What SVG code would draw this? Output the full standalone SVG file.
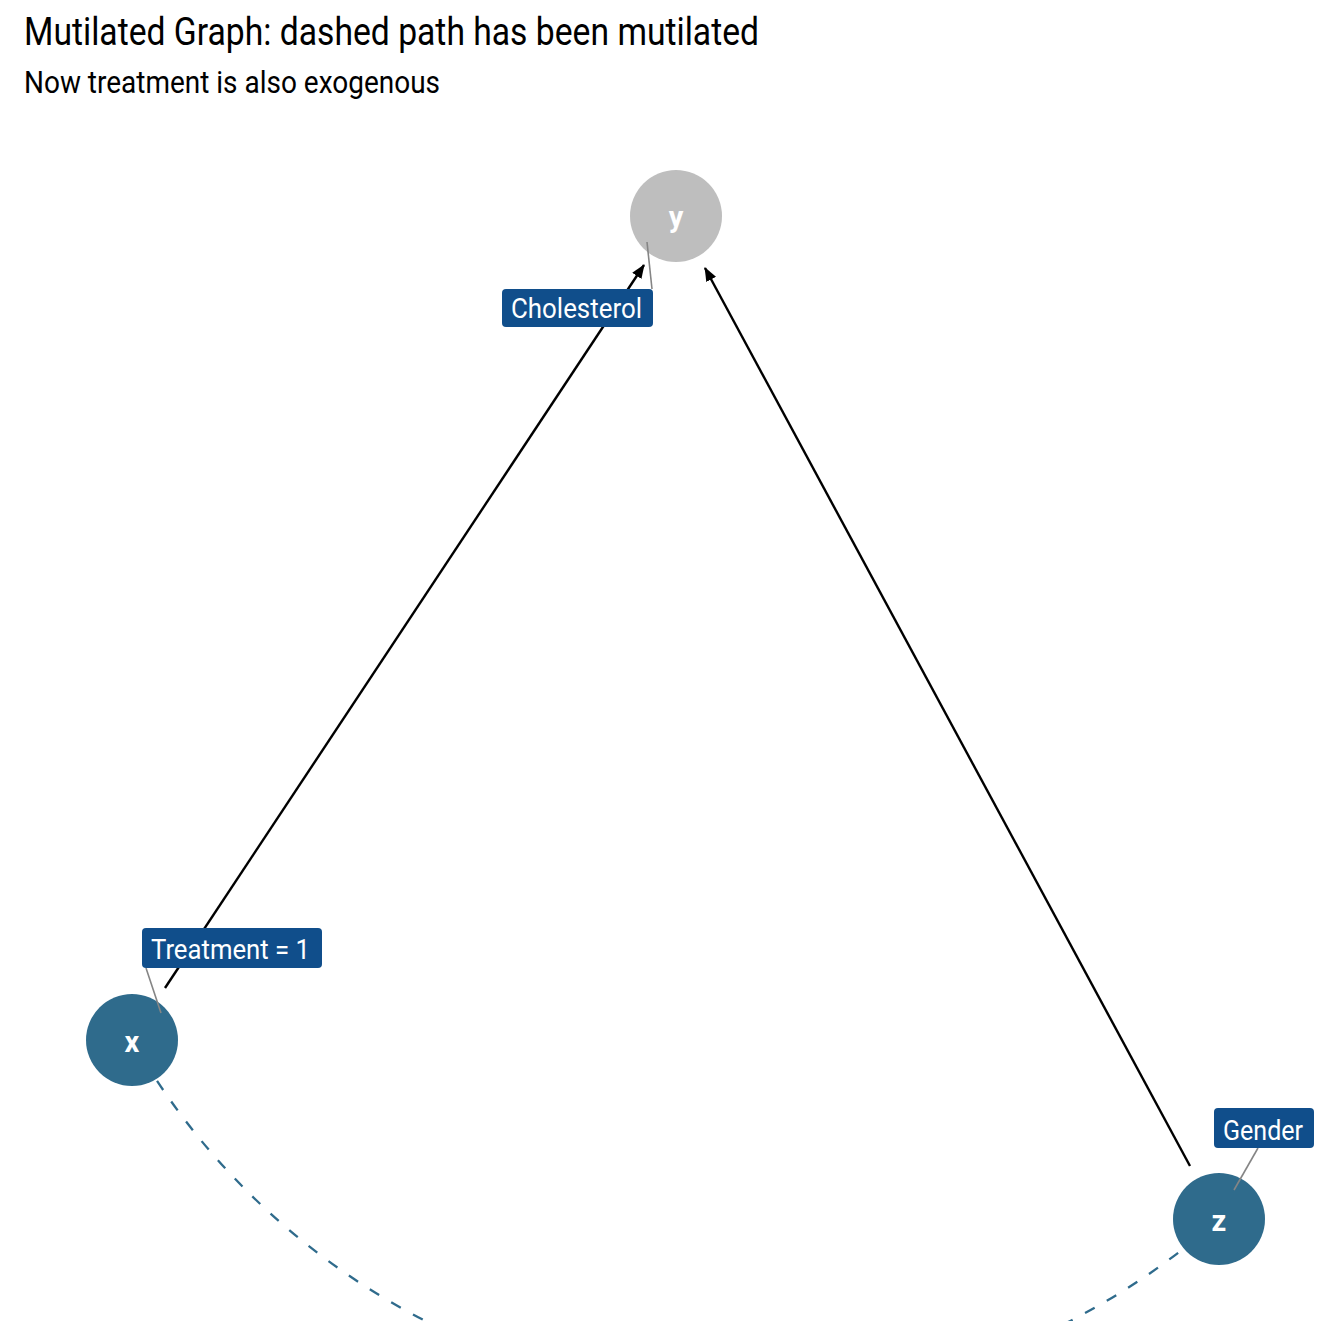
<svg xmlns="http://www.w3.org/2000/svg" width="1344" height="1344" viewBox="0 0 1344 1344">
<defs>
<style>
.title{font-family:Roboto,"Liberation Sans",sans-serif;fill:#000}
.edge{stroke:#000;stroke-width:2.4;fill:none}
.dash{stroke:#2F6B8C;stroke-width:2.3;fill:none;stroke-dasharray:11 14;stroke-dashoffset:2}
.node{stroke:none}
.nlab{font-family:Roboto,"Liberation Sans",sans-serif;font-weight:bold;font-size:29px;fill:#fff;text-anchor:middle}
.seg{stroke:#858585;stroke-width:1.6}
.lbox{fill:#104E8B}
.ltxt{font-family:Roboto,"Liberation Sans",sans-serif;font-size:28px;fill:#fff}
</style>
<marker id="arr" viewBox="0 0 14 11" refX="13" refY="5.5" markerWidth="14" markerHeight="11" markerUnits="userSpaceOnUse" orient="auto">
<path d="M0,0 L14,5.5 L0,11 z" fill="#000"/>
</marker>
<clipPath id="panel"><rect x="0" y="0" width="1344" height="1321"/></clipPath>
</defs>
<rect width="1344" height="1344" fill="#fff"/>
<text class="title" x="24" y="45" font-size="38" textLength="735" lengthAdjust="spacingAndGlyphs">Mutilated Graph: dashed path has been mutilated</text>
<text class="title" x="24" y="93" font-size="32" textLength="416" lengthAdjust="spacingAndGlyphs">Now treatment is also exogenous</text>
<g id="connectors">
<path class="dash" clip-path="url(#panel)" d="M132,1040 A708,708 0 0 0 1219,1219"/>
<line class="edge" x1="165" y1="988" x2="644" y2="265" marker-end="url(#arr)"/>
<line class="edge" x1="1190" y1="1166" x2="705" y2="268" marker-end="url(#arr)"/>
</g>
<g id="node-y">
<circle class="node" cx="676" cy="216" r="46" fill="#BEBEBE"/>
<text class="nlab" x="676" y="227">y</text>
</g>
<g id="node-x">
<circle class="node" cx="132" cy="1040" r="46" fill="#2F6B8C"/>
<text class="nlab" x="132" y="1052">x</text>
</g>
<g id="node-z">
<circle class="node" cx="1219" cy="1219" r="46" fill="#2F6B8C"/>
<text class="nlab" x="1219" y="1231">z</text>
</g>
<g id="label-cholesterol">
<line class="seg" x1="652" y1="289" x2="647" y2="242"/>
<rect class="lbox" x="502" y="289" width="151" height="38" rx="4"/>
<text class="ltxt" x="511" y="318" textLength="131" lengthAdjust="spacingAndGlyphs">Cholesterol</text>
</g>
<g id="label-treatment">
<line class="seg" x1="146" y1="968" x2="161" y2="1013"/>
<rect class="lbox" x="142" y="928" width="180" height="40" rx="4"/>
<text class="ltxt" x="151" y="959" textLength="159" lengthAdjust="spacingAndGlyphs">Treatment = 1</text>
</g>
<g id="label-gender">
<line class="seg" x1="1258" y1="1148" x2="1234" y2="1190"/>
<rect class="lbox" x="1214" y="1108" width="100" height="40" rx="4"/>
<text class="ltxt" x="1223" y="1140" textLength="80" lengthAdjust="spacingAndGlyphs">Gender</text>
</g>
</svg>
